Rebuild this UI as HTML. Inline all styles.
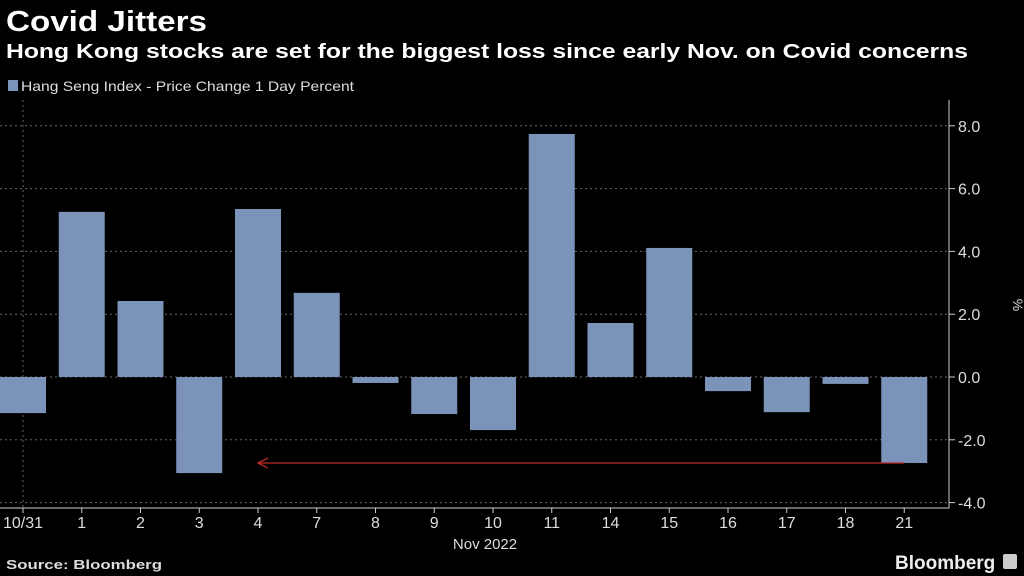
<!DOCTYPE html>
<html><head><meta charset="utf-8"><style>
body{margin:0;background:#000;width:1024px;height:576px;overflow:hidden;font-family:"Liberation Sans",sans-serif;color:#fff}
svg{display:block}
</style></head><body>
<svg width="1024" height="576">
<text x="6" y="31" font-size="29" font-weight="bold" fill="#fff" textLength="201" lengthAdjust="spacingAndGlyphs">Covid Jitters</text>
<text x="6" y="58" font-size="20" font-weight="bold" fill="#fff" textLength="962" lengthAdjust="spacingAndGlyphs">Hong Kong stocks are set for the biggest loss since early Nov. on Covid concerns</text>
<rect x="8" y="80" width="10" height="11" fill="#7b93b8"/>
<text x="21" y="91" font-size="14" fill="#ddd" textLength="333" lengthAdjust="spacingAndGlyphs">Hang Seng Index - Price Change 1 Day Percent</text>
<g id="grid"></g><g id="bars"></g><g id="axis"></g>
<text x="1013" y="305" font-size="14" fill="#ddd" transform="rotate(90 1013 305)" text-anchor="middle">%</text>
<text x="485" y="549" font-size="15" fill="#ddd" text-anchor="middle">Nov 2022</text>
<text x="6" y="569" font-size="13" font-weight="bold" fill="#ddd" textLength="156" lengthAdjust="spacingAndGlyphs">Source: Bloomberg</text>
<text x="895" y="569" font-size="19" font-weight="bold" fill="#eee">Bloomberg</text>
<rect x="1003" y="554" width="14" height="15" rx="2" fill="#ccc"/>
</svg>
<script>
const categories=["10/31","1","2","3","4","7","8","9","10","11","14","15","16","17","18","21"];
const values=[-1.15,5.26,2.42,-3.06,5.35,2.68,-0.19,-1.18,-1.69,7.74,1.72,4.11,-0.45,-1.12,-0.22,-2.74];
const yTicks=[8,6,4,2,0,-2,-4];
const NS="http://www.w3.org/2000/svg";
const y=v=>377-v*31.4;
const x=i=>23+i*58.75;
const bw=46, axX=949, plotTop=100, plotBot=508;
function mk(t,a,p){const e=document.createElementNS(NS,t);for(const k in a)e.setAttribute(k,a[k]);p.appendChild(e);return e;}
const g=document.getElementById('grid'),b=document.getElementById('bars'),ax=document.getElementById('axis');
yTicks.forEach(v=>{
 const l=mk('line',{x1:0,x2:axX,y1:y(v),y2:y(v),stroke:'#666','stroke-dasharray':'2,3'},g);
 
 
 const tk=mk('line',{x1:axX,x2:axX+6,y1:y(v),y2:y(v),stroke:'#ccc'},ax);
 
 
 const t=mk('text',{x:axX+9,y:y(v)+6,'font-size':16,fill:'#ddd'},ax);
 t.textContent=v.toFixed(1);
 
 
});
const vl=mk('line',{x1:23,x2:23,y1:plotTop,y2:plotBot,stroke:'#666','stroke-dasharray':'2,3'},g);


values.forEach((v,i)=>{
 const r=mk('rect',{x:x(i)-bw/2,y:Math.min(y(v),y(0)),width:bw,height:Math.abs(y(v)-y(0)),fill:'#7b93b8'},b);
 
 
 const tk=mk('line',{x1:x(i),x2:x(i),y1:plotBot,y2:plotBot+5,stroke:'#ccc'},ax);
 
 
 const t=mk('text',{x:x(i),y:plotBot+20,'font-size':16,fill:'#ddd','text-anchor':'middle'},ax);
 t.textContent=categories[i];
 
 
});
const al=mk('path',{d:`M${axX} ${plotTop}V${plotBot}H0`,stroke:'#ccc',fill:'none'},ax);


const ay=y(values[15]);
const arr=mk('path',{d:`M${x(15)} ${ay}H${x(4)} M${x(4)+10} ${ay-5}L${x(4)} ${ay}L${x(4)+10} ${ay+5}`,stroke:'#c0282d','stroke-width':1.3,fill:'none'},b);


</script>
</body></html>
